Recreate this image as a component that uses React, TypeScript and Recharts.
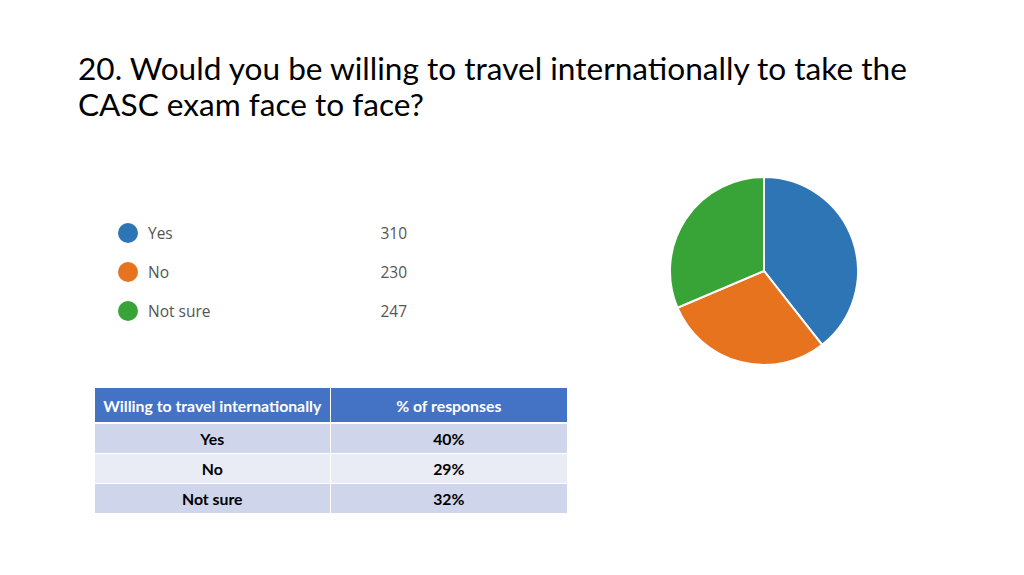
import { Cell, Pie, PieChart } from "recharts";

const TITLE_LINES = [
  "20. Would you be willing to travel internationally to take the",
  "CASC exam face to face?",
];

const CATEGORIES = ["Yes", "No", "Not sure"];
const COUNTS = [310, 230, 247];
const PERCENTS = ["40%", "29%", "32%"];
const COLORS = ["#2e75b6", "#e8731f", "#38a336"];

const TABLE_HEADERS = ["Willing to travel internationally", "% of responses"];

const pieData = CATEGORIES.map((name, i) => ({ name, value: COUNTS[i] }));

export default function App() {
  return (
    <div
      style={{
        position: "fixed",
        left: 0,
        top: 0,
        width: 1024,
        height: 575,
        background: "#fff",
        overflow: "hidden",
        fontFamily: "Lato, sans-serif",
      }}
    >
      {/* title */}
      <div
        style={{
          position: "absolute",
          left: 78,
          top: 50,
          fontSize: 31.6,
          lineHeight: "36px",
          color: "#000",
        }}
      >
        {TITLE_LINES.map((t) => (
          <div key={t} style={{ whiteSpace: "nowrap" }}>{t}</div>
        ))}
      </div>

      {/* legend */}
      <div style={{ position: "absolute", left: 118, top: 213, width: 289, fontFamily: "'Open Sans', sans-serif" }}>
        {CATEGORIES.map((c, i) => (
          <div key={c} style={{ display: "flex", alignItems: "center", height: 39, fontSize: 15.5, color: "#555" }}>
            <span style={{ width: 20, height: 20, borderRadius: 10, background: COLORS[i], marginRight: 10 }} />
            <span style={{ flex: 1 }}>{c}</span>
            <span>{COUNTS[i]}</span>
          </div>
        ))}
      </div>

      {/* pie */}
      <div style={{ position: "absolute", left: 663, top: 170 }}>
        <PieChart width={202} height={202} margin={{ top: 0, right: 0, bottom: 0, left: 0 }}>
          <Pie
            data={pieData}
            dataKey="value"
            nameKey="name"
            cx={101}
            cy={101}
            outerRadius={94}
            startAngle={90}
            endAngle={-270}
            stroke="#fff"
            strokeWidth={2}
            isAnimationActive={false}
          >
            {pieData.map((_, i) => <Cell key={i} fill={COLORS[i]} />)}
          </Pie>
        </PieChart>
      </div>

      {/* table */}
      <table
        style={{
          position: "absolute",
          left: 95,
          top: 388,
          width: 472,
          borderCollapse: "collapse",
          fontSize: 15.8,
          fontWeight: 700,
          textAlign: "center",
        }}
      >
        <thead>
          <tr style={{ background: "#4472c4", color: "#fff", height: 35 }}>
            {TABLE_HEADERS.map((h, i) => (
              <th key={h} style={{ width: i === 0 ? 235 : 237, borderRight: i === 0 ? "1px solid #fff" : undefined, borderBottom: "2px solid #fff", padding: 0 }}>
                {h}
              </th>
            ))}
          </tr>
        </thead>
        <tbody>
          {CATEGORIES.map((c, i) => (
            <tr key={c} style={{ background: i % 2 === 0 ? "#cfd5ea" : "#e9ebf5", height: 30 }}>
              <td style={{ borderRight: "1px solid #fff", borderBottom: "1px solid #fff", padding: 0 }}>{c}</td>
              <td style={{ borderBottom: "1px solid #fff", padding: 0 }}>{PERCENTS[i]}</td>
            </tr>
          ))}
        </tbody>
      </table>
    </div>
  );
}
